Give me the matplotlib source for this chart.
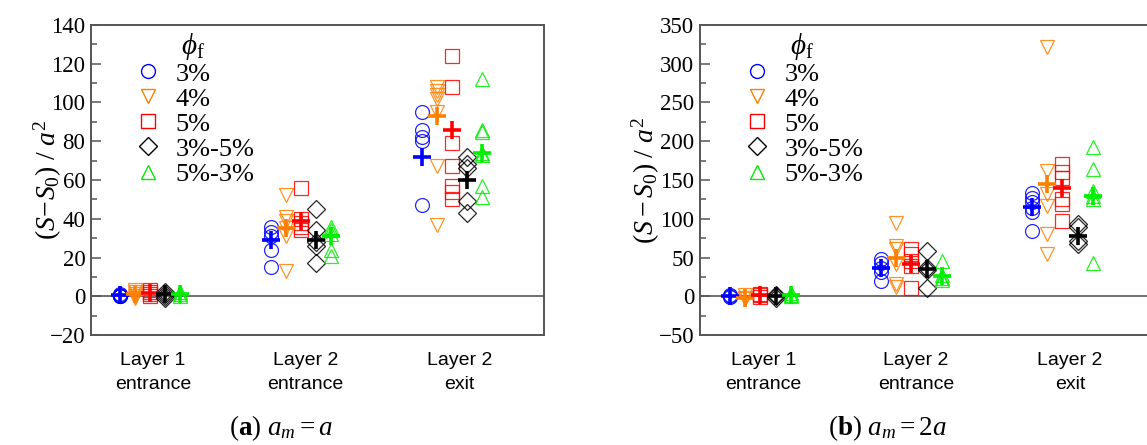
import matplotlib
matplotlib.use("Agg")
import matplotlib.pyplot as plt
from matplotlib import font_manager
from matplotlib.lines import Line2D

plt.rcParams["font.family"] = ["Liberation Serif", "DejaVu Serif"]
plt.rcParams["mathtext.fontset"] = "custom"
plt.rcParams["mathtext.rm"] = "Liberation Serif"
plt.rcParams["mathtext.it"] = "Liberation Serif:italic"
plt.rcParams["mathtext.bf"] = "Liberation Serif:bold"

installed = {f.name for f in font_manager.fontManager.ttflist}
cat_font = "Liberation Sans Narrow" if "Liberation Sans Narrow" in installed else "Liberation Sans"

# ---- categories and series -------------------------------------------------
categories = ["Layer 1\nentrance", "Layer 2\nentrance", "Layer 2\nexit"]
series_labels = ["3%", "4%", "5%", "3%-5%", "5%-3%"]
series_colors = ["#0000FF", "#FF8000", "#FF0000", "#000000", "#00EE00"]
series_markers = ["o", "v", "s", "D", "^"]

# ---- (a) a_m = a : individual runs per category ------------------------------
a_3 = [[1, 0.5, 0, 0, 0], [36, 33, 31, 24, 15], [95, 86, 82, 80, 47]]
a_4 = [[3, 2, 1, 0, -1], [52, 41, 39, 35, 31, 13], [108, 106, 104, 102, 95, 67, 37]]
a_5 = [[3, 2, 1, 0], [56, 40, 38, 36, 34], [124, 108, 79, 67, 57, 54, 50]]
a_35 = [[2, 1, 0, -1], [45, 34, 28, 26, 17], [72, 68, 66, 49, 43]]
a_53 = [[2, 1, 0], [36, 34, 32, 24, 21], [112, 86, 85, 74, 73, 57, 51]]
# mean values per category
a_3_mean = [0.5, 29, 72]
a_4_mean = [1, 35, 93]
a_5_mean = [1.5, 39, 86]
a_35_mean = [1, 29, 60]
a_53_mean = [1, 31, 74]

# ---- (b) a_m = 2a ------------------------------------------------------------
b_3 = [[1, 0, -1], [48, 43, 37, 31, 20], [133, 127, 121, 114, 109, 84]]
b_4 = [[2, -2, -4], [94, 65, 61, 41, 16, 12], [322, 162, 132, 117, 80, 54]]
b_5 = [[3, 1, -1], [61, 54, 46, 39, 11], [170, 160, 153, 125, 119, 97]]
b_35 = [[2, 0, -2], [58, 37, 34, 11], [93, 89, 71, 68]]
b_53 = [[4, 2, 0], [46, 28, 24, 21], [192, 164, 136, 130, 125, 43]]
b_3_mean = [0, 37, 115]
b_4_mean = [-2, 50, 145]
b_5_mean = [1, 41, 140]
b_35_mean = [0, 35, 78]
b_53_mean = [2, 26, 130]

offsets = [-0.2, -0.1, 0.0, 0.1, 0.2]
tick_pos = [0.02, 1.03, 2.05]

fig = plt.figure(figsize=(11.47, 4.45), dpi=100)
ax_a = fig.add_axes([91 / 1147, 110 / 445, 453 / 1147, 310 / 445])
ax_b = fig.add_axes([700 / 1147, 110 / 445, 453 / 1147, 310 / 445])

spine_col = "#555555"


def draw_panel(ax, runs, means, ylim, major, minor, ylabel, xlim, ypad):
    ax.axhline(0, color=spine_col, lw=1.2, zorder=0)
    for k in range(len(series_labels)):
        col = series_colors[k]
        mk = series_markers[k]
        ms = 9.6 if mk == "D" else 10
        for ci, vals in enumerate(runs[k]):
            x = ci + offsets[k]
            ax.plot([x] * len(vals), vals, linestyle="none", marker=mk, ms=ms,
                    mfc="none", mec=col, mew=0.9, alpha=0.85, zorder=3)
        xs = [ci + offsets[k] for ci in range(len(categories))]
        ax.plot(xs, means[k], linestyle="none", marker="+", ms=13, mew=2.6,
                color=col, zorder=4)
    ax.set_xlim(*xlim)
    ax.set_ylim(*ylim)
    ax.set_yticks(range(ylim[0], ylim[1] + 1, major))
    ax.set_yticks(range(ylim[0], ylim[1] + 1, minor), minor=True)
    ax.set_xticks(tick_pos)
    ax.set_xticklabels(categories, fontfamily=cat_font, fontsize=14,
                       linespacing=1.55)
    ax.tick_params(axis="x", length=0, pad=12)
    ax.tick_params(axis="y", which="major", direction="in", length=7,
                   width=1.1, color=spine_col, labelsize=16.5, pad=4)
    ax.tick_params(axis="y", which="minor", direction="in", length=4.5,
                   width=1.1, color=spine_col)
    for s in ax.spines.values():
        s.set_color(spine_col)
        s.set_linewidth(1.4)
    ax.set_ylabel(ylabel, fontsize=20, labelpad=ypad)

    handles = [Line2D([], [], linestyle="none", marker=series_markers[k],
                      ms=(9.6 if series_markers[k] == "D" else 10), mfc="none",
                      mec=series_colors[k], mew=1.0)
               for k in range(len(series_labels))]
    leg = ax.legend(handles, series_labels, loc="upper left",
                    bbox_to_anchor=(0.05, 1.04), frameon=False,
                    prop={"size": 19}, title=r"$\phi_{\mathrm{f}}$",
                    title_fontsize=21, labelspacing=0.06, handletextpad=0.45,
                    borderaxespad=0.3, handlelength=1.2)
    leg._legend_box.align = "center"
    leg._legend_box.sep = 0


draw_panel(ax_a, [a_3, a_4, a_5, a_35, a_53],
           [a_3_mean, a_4_mean, a_5_mean, a_35_mean, a_53_mean],
           (-20, 140), 20, 10, r"$(S\!-\!S_0)\ /\ a^2$", (-0.39, 2.61), -10)
draw_panel(ax_b, [b_3, b_4, b_5, b_35, b_53],
           [b_3_mean, b_4_mean, b_5_mean, b_35_mean, b_53_mean],
           (-50, 350), 50, 25, r"$(S-S_0)\ /\ a^2$", (-0.40, 2.60), -2)

fig.text(281 / 1147, 1 - 428 / 445, r"$(\mathbf{a})\ a_m = a$", fontsize=19.5,
         ha="center", va="center")
fig.text(887 / 1147, 1 - 428 / 445, r"$(\mathbf{b})\ a_m = 2a$", fontsize=19.5,
         ha="center", va="center")

fig.savefig("out.png", dpi=100)
